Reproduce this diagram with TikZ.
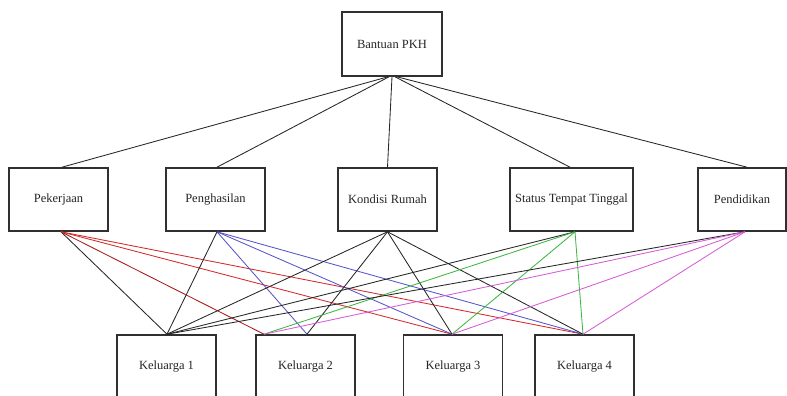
\documentclass[tikz,border=0pt]{standalone}
\usepackage{fontspec}
\setmainfont{Liberation Serif}
\usetikzlibrary{calc}
\definecolor{cred}{HTML}{D42A2A}
\definecolor{cdred}{HTML}{A81818}
\definecolor{cblue}{HTML}{5555C8}
\definecolor{cgreen}{HTML}{3DB83D}
\definecolor{cpink}{HTML}{D65CD6}
\definecolor{cbox}{HTML}{303030}
\begin{document}
\begin{tikzpicture}[x=1pt,y=-1pt,
  box/.style={draw=cbox, line width=1.6pt, fill=white, minimum height=63pt, inner sep=0pt,
    font=\fontsize{12.5}{14}\selectfont, text=black!85},
  link/.style={line width=0.85pt, draw=black!85}]
\useasboundingbox (0,0) rectangle (787,396);
\clip (0,0) rectangle (787,396);
% nodes
\node[box, minimum width=100pt, minimum height=64pt] (top) at (392,44) {Bantuan PKH};
\node[box, minimum width=99pt] (pek) at (58.5,199.5) {Pekerjaan};
\node[box, minimum width=99pt] (peng) at (215.5,199.5) {Penghasilan};
\node[box, minimum width=99pt] (kon) at (387.5,199.5) {Kondisi Rumah};
\node[box, minimum width=123pt] (sta) at (571.5,199.5) {Status Tempat Tinggal};
\node[box, minimum width=88pt] (pen) at (742,199.5) {Pendidikan};
\node[box, minimum width=99pt] (k1) at (166.5,366.5) {Keluarga 1};
\node[box, minimum width=99pt] (k2) at (305.5,366.5) {Keluarga 2};
\node[box, minimum width=99pt] (k3) at (453,366.5) {Keluarga 3};
\node[box, minimum width=99pt] (k4) at (584.5,366.5) {Keluarga 4};
% attachment points
\coordinate (pekB) at ($(pek.south)+(2.5,0)$);
\coordinate (pengB) at ($(peng.south)+(1.5,0)$);
\coordinate (konB) at (kon.south);
\coordinate (staB) at ($(sta.south)+(3.5,0)$);
\coordinate (penB) at ($(pen.south)+(3,0)$);
\coordinate (k1T) at ($(k1.north)+(0.5,0)$);
\coordinate (k2a) at ($(k2.north)+(-41.5,0)$);
\coordinate (k2b) at ($(k2.north)+(1.5,0)$);
\coordinate (k3T) at ($(k3.north)+(-1,0)$);
\coordinate (k4T) at ($(k4.north)+(-1.5,0)$);
% top connectors
\draw[link] ($(top.south)+(-4,0)$) -- ($(pek.north)+(3.5,0)$);
\draw[link] ($(top.south)+(-3,0)$) -- ($(peng.north)+(1.5,0)$);
\draw[link] (top.south) -- (kon.north);
\draw[link] ($(top.south)+(3,0)$) -- ($(sta.north)+(-1.5,0)$);
\draw[link] ($(top.south)+(5,0)$) -- ($(pen.north)+(5,0)$);
% Pekerjaan
\draw[link] (pekB) -- (k1T);
\draw[link, draw=cdred] (pekB) -- (k2a);
\draw[link, draw=cred] (pekB) -- (k3T);
\draw[link, draw=cred] (pekB) -- (k4T);
% Penghasilan
\draw[link] (pengB) -- (k1T);
\draw[link, draw=cblue] (pengB) -- (k2b);
\draw[link, draw=cblue] (pengB) -- (k3T);
\draw[link, draw=cblue] (pengB) -- (k4T);
% Kondisi Rumah
\draw[link] (konB) -- (k1T);
\draw[link] (konB) -- (k2b);
\draw[link] (konB) -- (k3T);
\draw[link] (konB) -- (k4T);
% Status Tempat Tinggal
\draw[link] (staB) -- (k1T);
\draw[link, draw=cgreen] (staB) -- (k2a);
\draw[link, draw=cgreen] (staB) -- (k3T);
\draw[link, draw=cgreen] (staB) -- (k4T);
% Pendidikan
\draw[link] (penB) -- (k1T);
\draw[link, draw=cpink] (penB) -- (k2a);
\draw[link, draw=cpink] (penB) -- (k3T);
\draw[link, draw=cpink] (penB) -- (k4T);
\end{tikzpicture}
\end{document}
